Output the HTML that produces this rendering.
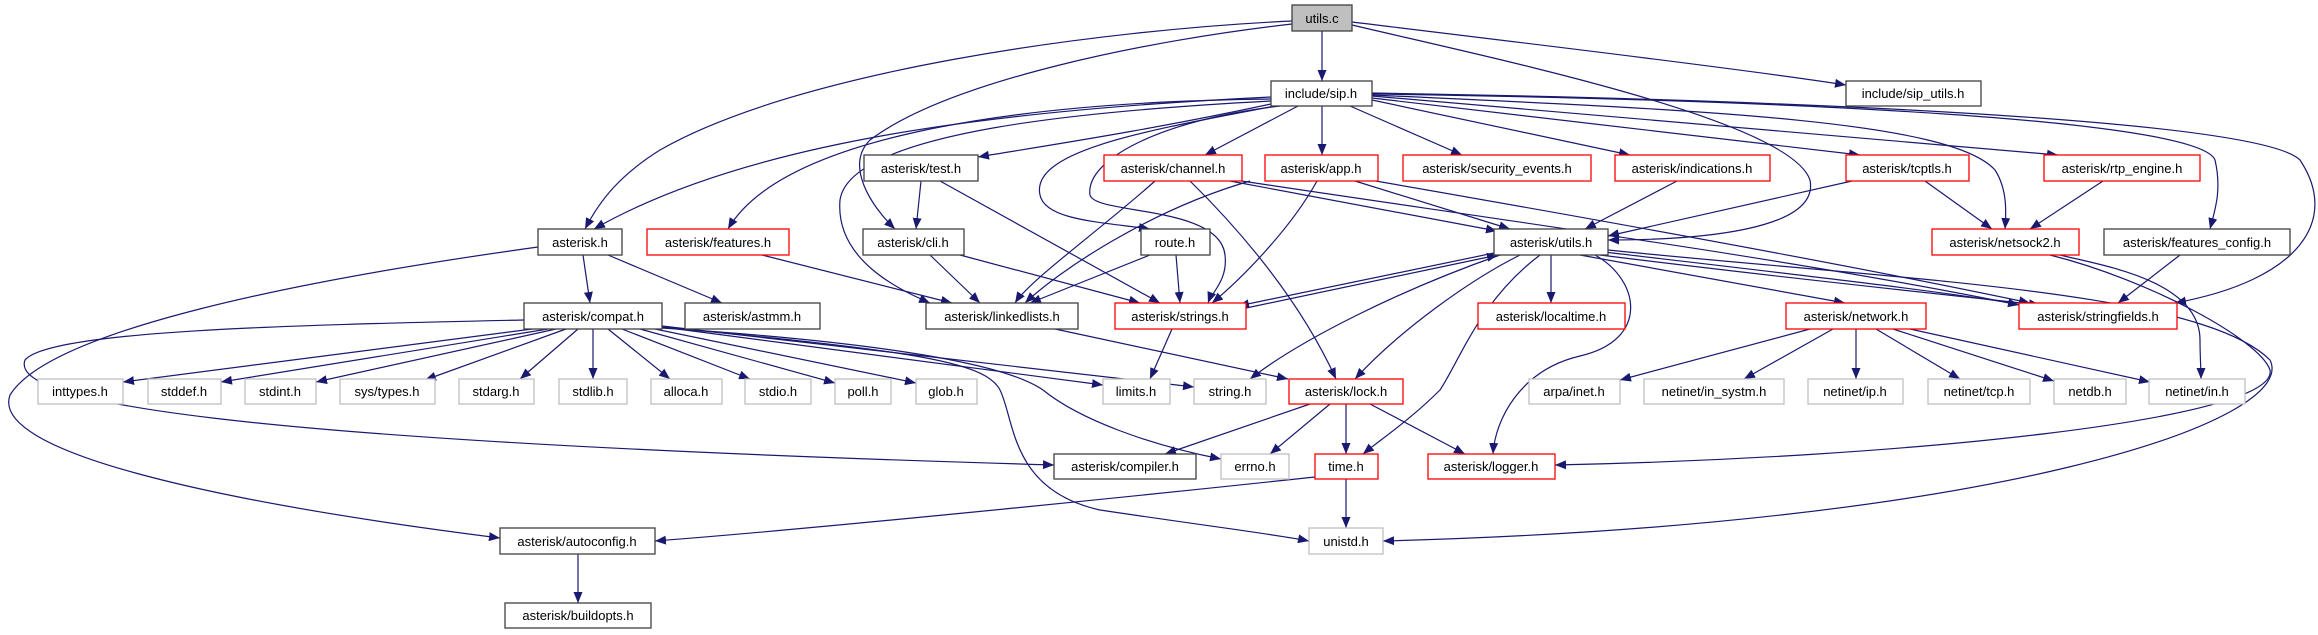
<!DOCTYPE html>
<html><head><meta charset="utf-8"><style>
html,body{margin:0;padding:0;background:#fff;}
svg{display:block;}
text{font-family:"Liberation Sans","DejaVu Sans",sans-serif;font-size:13px;fill:#000;text-anchor:middle;}
.n rect{fill:#fff;stroke:#404040;stroke-width:1.3;}
.r rect{fill:#fff;stroke:#ff0000;stroke-width:1.3;}
.g rect{fill:#fff;stroke:#bfbfbf;stroke-width:1.3;}
path.e{fill:none;stroke:#191970;stroke-width:1.2;marker-end:url(#a);}
</style></head><body>
<svg width="2318" height="635" viewBox="0 0 2318 635" xmlns="http://www.w3.org/2000/svg">
<defs><marker id="a" markerUnits="userSpaceOnUse" markerWidth="12" markerHeight="9" refX="11" refY="4.5" orient="auto"><path d="M0,0 L11,4.5 L0,9 z" fill="#191970"/></marker></defs>

<!-- edges -->
<path class="e" d="M1322,31 L1322,81"/>
<path class="e" d="M1352,22 C1500,40 1750,70 1846,85"/>
<path class="e" d="M1292,21 C1100,30 800,70 660,150 C620,175 600,200 585,229"/>
<path class="e" d="M1292,24 C1150,40 950,80 870,140 C845,165 870,205 895,229"/>
<path class="e" d="M1352,25 C1500,60 1790,120 1810,180 C1820,230 1700,240 1608,240"/>
<path class="e" d="M1271,97 C1000,110 750,140 594,229"/>
<path class="e" d="M1271,99 C1000,102 780,140 728,229"/>
<path class="e" d="M1271,104 C1150,130 1050,145 978,157"/>
<path class="e" d="M1271,101 C1100,110 850,130 840,200 C835,260 900,290 930,303"/>
<path class="e" d="M1275,106 C1150,130 1030,150 1040,195 C1045,220 1100,222 1150,229"/>
<path class="e" d="M1280,106 C1160,120 1085,160 1090,195 C1095,215 1220,205 1225,255 C1228,280 1212,292 1208,303"/>
<path class="e" d="M1298,106 L1205,155"/>
<path class="e" d="M1322,106 L1322,155"/>
<path class="e" d="M1350,106 L1462,155"/>
<path class="e" d="M1372,100 L1630,155"/>
<path class="e" d="M1372,98 L1860,155"/>
<path class="e" d="M1372,96 L2058,155"/>
<path class="e" d="M1372,95 C1700,110 1950,120 1995,170 C2008,190 2006,215 2005,229"/>
<path class="e" d="M1372,94 C1800,100 2200,120 2215,160 C2222,190 2215,210 2210,229"/>
<path class="e" d="M1372,93 C1800,100 2260,120 2300,160 C2340,220 2300,280 2175,303"/>
<path class="e" d="M921,181 L916,229"/>
<path class="e" d="M940,181 L1160,303"/>
<path class="e" d="M930,255 L980,303"/>
<path class="e" d="M960,255 L1140,303"/>
<path class="e" d="M1150,255 L1030,303"/>
<path class="e" d="M1176,255 L1180,303"/>
<path class="e" d="M1155,181 C1100,230 1030,280 1015,303"/>
<path class="e" d="M1190,181 C1240,230 1300,300 1336,379"/>
<path class="e" d="M1230,181 L1497,231"/>
<path class="e" d="M1235,180 C1500,220 1800,260 2019,305"/>
<path class="e" d="M1250,181 C1150,210 1060,270 1025,303"/>
<path class="e" d="M1317,181 C1290,230 1240,280 1212,303"/>
<path class="e" d="M1355,181 L1510,229"/>
<path class="e" d="M1370,180 C1600,220 1850,265 2030,303"/>
<path class="e" d="M762,255 L952,303"/>
<path class="e" d="M583,255 L590,303"/>
<path class="e" d="M608,255 L722,303"/>
<path class="e" d="M538,247 C300,280 50,330 10,395 C-10,450 200,500 500,538"/>
<path class="e" d="M1677,181 L1585,229"/>
<path class="e" d="M1852,181 L1608,236"/>
<path class="e" d="M1925,181 L1992,229"/>
<path class="e" d="M2103,181 L2030,229"/>
<path class="e" d="M2180,255 L2118,303"/>
<path class="e" d="M2060,255 C2100,265 2200,280 2200,340 C2200,355 2201,370 2201,379"/>
<path class="e" d="M2050,255 C2150,280 2260,340 2270,370 C2280,420 1900,458 1555,465"/>
<path class="e" d="M1608,250 C1900,280 2200,290 2270,360 C2300,420 2000,525 1383,541"/>
<path class="e" d="M1494,253 L1238,306"/>
<path class="e" d="M1246,308 L1498,255"/>
<path class="e" d="M1551,255 L1551,303"/>
<path class="e" d="M1580,255 L1845,303"/>
<path class="e" d="M1600,255 C1800,280 1950,295 2040,305"/>
<path class="e" d="M1604,252 C1800,275 1950,292 2035,307"/>
<path class="e" d="M1520,255 C1470,280 1400,330 1355,379"/>
<path class="e" d="M1500,255 C1400,290 1300,340 1250,379"/>
<path class="e" d="M1540,255 C1480,300 1460,360 1440,390 C1410,420 1380,440 1363,454"/>
<path class="e" d="M1595,255 C1640,280 1650,340 1580,356 C1520,370 1495,420 1493,454"/>
<path class="e" d="M1172,329 L1150,379"/>
<path class="e" d="M1055,329 L1288,379"/>
<path class="e" d="M1310,404 L1165,454"/>
<path class="e" d="M1330,404 L1270,454"/>
<path class="e" d="M1346,404 L1346,454"/>
<path class="e" d="M1370,404 L1465,454"/>
<path class="e" d="M1315,477 C1100,500 800,530 655,541"/>
<path class="e" d="M1346,479 L1346,528"/>
<path class="e" d="M540,328 L123,382"/>
<path class="e" d="M548,329 L221,382"/>
<path class="e" d="M556,329 L316,382"/>
<path class="e" d="M566,329 L425,380"/>
<path class="e" d="M578,329 L520,379"/>
<path class="e" d="M593,329 L593,379"/>
<path class="e" d="M608,329 L670,379"/>
<path class="e" d="M622,329 L750,379"/>
<path class="e" d="M640,329 L835,383"/>
<path class="e" d="M655,329 L916,383"/>
<path class="e" d="M662,327 L1103,385"/>
<path class="e" d="M662,326 L1194,387"/>
<path class="e" d="M662,327 C900,350 985,360 1000,390 C1015,420 1010,490 1100,510 C1200,525 1280,535 1309,541"/>
<path class="e" d="M662,328 C850,340 1000,360 1043,390 C1080,420 1150,445 1221,459"/>
<path class="e" d="M524,320 C300,325 50,330 25,360 C10,400 200,440 1054,465"/>
<path class="e" d="M1810,329 L1620,380"/>
<path class="e" d="M1833,329 L1744,379"/>
<path class="e" d="M1856,329 L1856,379"/>
<path class="e" d="M1876,329 L1960,379"/>
<path class="e" d="M1893,329 L2054,381"/>
<path class="e" d="M1910,329 L2150,382"/>
<path class="e" d="M578,554 L578,603"/>

<!-- nodes -->
<g class="n"><rect x="1292" y="5" width="60" height="26" style="fill:#bfbfbf"/><text x="1322" y="23">utils.c</text></g>
<g class="n"><rect x="1271" y="81" width="101" height="25"/><text x="1321" y="98">include/sip.h</text></g>
<g class="n"><rect x="1846" y="81" width="135" height="25"/><text x="1913" y="98">include/sip_utils.h</text></g>

<g class="n"><rect x="864" y="155" width="114" height="26"/><text x="921" y="173">asterisk/test.h</text></g>
<g class="r"><rect x="1104" y="155" width="138" height="26"/><text x="1173" y="173">asterisk/channel.h</text></g>
<g class="r"><rect x="1265" y="155" width="113" height="26"/><text x="1321" y="173">asterisk/app.h</text></g>
<g class="r"><rect x="1403" y="155" width="188" height="26"/><text x="1497" y="173">asterisk/security_events.h</text></g>
<g class="r"><rect x="1615" y="155" width="155" height="26"/><text x="1692" y="173">asterisk/indications.h</text></g>
<g class="r"><rect x="1846" y="155" width="123" height="26"/><text x="1907" y="173">asterisk/tcptls.h</text></g>
<g class="r"><rect x="2044" y="155" width="156" height="26"/><text x="2122" y="173">asterisk/rtp_engine.h</text></g>

<g class="n"><rect x="538" y="229" width="84" height="26"/><text x="580" y="247">asterisk.h</text></g>
<g class="r"><rect x="647" y="229" width="142" height="26"/><text x="718" y="247">asterisk/features.h</text></g>
<g class="n"><rect x="863" y="229" width="101" height="26"/><text x="913" y="247">asterisk/cli.h</text></g>
<g class="n"><rect x="1141" y="229" width="69" height="26"/><text x="1175" y="247">route.h</text></g>
<g class="n"><rect x="1494" y="229" width="114" height="26"/><text x="1551" y="247">asterisk/utils.h</text></g>
<g class="r"><rect x="1932" y="229" width="147" height="26"/><text x="2005" y="247">asterisk/netsock2.h</text></g>
<g class="n"><rect x="2104" y="229" width="186" height="26"/><text x="2197" y="247">asterisk/features_config.h</text></g>

<g class="n"><rect x="524" y="303" width="138" height="26"/><text x="593" y="321">asterisk/compat.h</text></g>
<g class="n"><rect x="685" y="303" width="135" height="26"/><text x="752" y="321">asterisk/astmm.h</text></g>
<g class="n"><rect x="926" y="303" width="152" height="26"/><text x="1002" y="321">asterisk/linkedlists.h</text></g>
<g class="r"><rect x="1115" y="303" width="131" height="26"/><text x="1180" y="321">asterisk/strings.h</text></g>
<g class="r"><rect x="1478" y="303" width="147" height="26"/><text x="1551" y="321">asterisk/localtime.h</text></g>
<g class="r"><rect x="1786" y="303" width="140" height="26"/><text x="1856" y="321">asterisk/network.h</text></g>
<g class="r"><rect x="2019" y="303" width="158" height="26"/><text x="2098" y="321">asterisk/stringfields.h</text></g>

<g class="g"><rect x="38" y="379" width="85" height="25"/><text x="80" y="396">inttypes.h</text></g>
<g class="g"><rect x="148" y="379" width="73" height="25"/><text x="184" y="396">stddef.h</text></g>
<g class="g"><rect x="245" y="379" width="71" height="25"/><text x="280" y="396">stdint.h</text></g>
<g class="g"><rect x="340" y="379" width="95" height="25"/><text x="387" y="396">sys/types.h</text></g>
<g class="g"><rect x="459" y="379" width="75" height="25"/><text x="496" y="396">stdarg.h</text></g>
<g class="g"><rect x="559" y="379" width="68" height="25"/><text x="593" y="396">stdlib.h</text></g>
<g class="g"><rect x="651" y="379" width="71" height="25"/><text x="686" y="396">alloca.h</text></g>
<g class="g"><rect x="745" y="379" width="66" height="25"/><text x="778" y="396">stdio.h</text></g>
<g class="g"><rect x="835" y="379" width="56" height="25"/><text x="863" y="396">poll.h</text></g>
<g class="g"><rect x="916" y="379" width="61" height="25"/><text x="946" y="396">glob.h</text></g>
<g class="g"><rect x="1103" y="379" width="67" height="25"/><text x="1136" y="396">limits.h</text></g>
<g class="g"><rect x="1194" y="379" width="72" height="25"/><text x="1230" y="396">string.h</text></g>
<g class="r"><rect x="1289" y="379" width="114" height="25"/><text x="1346" y="396">asterisk/lock.h</text></g>
<g class="g"><rect x="1529" y="379" width="91" height="25"/><text x="1574" y="396">arpa/inet.h</text></g>
<g class="g"><rect x="1644" y="379" width="140" height="25"/><text x="1714" y="396">netinet/in_systm.h</text></g>
<g class="g"><rect x="1808" y="379" width="95" height="25"/><text x="1855" y="396">netinet/ip.h</text></g>
<g class="g"><rect x="1928" y="379" width="102" height="25"/><text x="1979" y="396">netinet/tcp.h</text></g>
<g class="g"><rect x="2054" y="379" width="72" height="25"/><text x="2090" y="396">netdb.h</text></g>
<g class="g"><rect x="2149" y="379" width="96" height="25"/><text x="2197" y="396">netinet/in.h</text></g>

<g class="n"><rect x="1054" y="454" width="142" height="25"/><text x="1125" y="471">asterisk/compiler.h</text></g>
<g class="g"><rect x="1221" y="454" width="68" height="25"/><text x="1255" y="471">errno.h</text></g>
<g class="r"><rect x="1315" y="454" width="63" height="25"/><text x="1346" y="471">time.h</text></g>
<g class="r"><rect x="1428" y="454" width="127" height="25"/><text x="1491" y="471">asterisk/logger.h</text></g>

<g class="n"><rect x="500" y="528" width="155" height="26"/><text x="577" y="546">asterisk/autoconfig.h</text></g>
<g class="g"><rect x="1309" y="528" width="74" height="26"/><text x="1346" y="546">unistd.h</text></g>

<g class="n"><rect x="505" y="603" width="146" height="25"/><text x="578" y="620">asterisk/buildopts.h</text></g>
</svg>
</body></html>
